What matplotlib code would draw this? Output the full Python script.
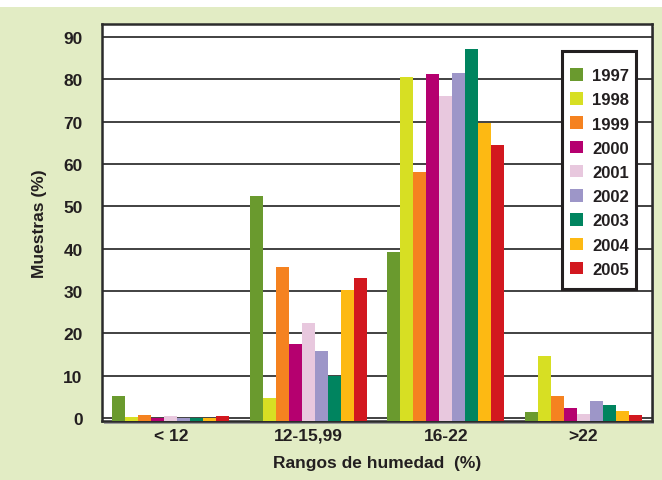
import numpy as np
import matplotlib
matplotlib.use("Agg")
import matplotlib.pyplot as plt
from matplotlib.patches import Rectangle

plt.rcParams['font.family'] = ['Liberation Sans Narrow', 'Liberation Sans', 'DejaVu Sans']
plt.rcParams['font.weight'] = 'bold'
plt.rcParams['axes.labelweight'] = 'bold'

# datos
rangos = ["< 12", "12-15,99", "16-22", ">22"]
anios = ["1997", "1998", "1999", "2000", "2001", "2002", "2003", "2004", "2005"]
colores = ["#6A9A2E", "#D7DF23", "#F58220", "#B5006F", "#E8C8DE",
           "#9D96C8", "#00845F", "#FDB913", "#D2181F"]

v1997 = [5.3, 52.5, 39.3, 1.5]
v1998 = [0.3, 4.7, 80.6, 14.7]
v1999 = [0.8, 35.7, 58.1, 5.2]
v2000 = [0.1, 17.5, 81.2, 2.4]
v2001 = [0.4, 22.5, 76.2, 0.9]
v2002 = [0.1, 15.8, 81.6, 4.0]
v2003 = [0.1, 9.9, 87.1, 3.1]
v2004 = [0.1, 30.3, 69.8, 1.7]
v2005 = [0.4, 33.1, 64.4, 0.7]
series = [v1997, v1998, v1999, v2000, v2001, v2002, v2003, v2004, v2005]

verde = "#E2ECC4"
fig = plt.figure(figsize=(6.62, 4.81), dpi=100, facecolor=verde)
# franja blanca arriba
fig.patches.append(Rectangle((0, 1 - 8 / 481), 1, 8 / 481, transform=fig.transFigure,
                             facecolor="white", edgecolor="none", zorder=-2))
# sombra del marco
fig.patches.append(Rectangle((104 / 662, 1 - 425 / 481), 550 / 662, 397 / 481,
                             transform=fig.transFigure, facecolor="#9a9a9a",
                             edgecolor="none", zorder=-1))

ax = fig.add_axes([102 / 662, 1 - 422 / 481, 550 / 662, 397 / 481])
ax.set_facecolor("white")
ax.set_zorder(1)

ymin, ymax = -0.7, 93.1
x = np.arange(len(rangos))
w = 0.85 / len(anios)
for i, (vals, c, a) in enumerate(zip(series, colores, anios)):
    vals = np.array(vals)
    ax.bar(x - 0.425 + w * (i + 0.5), vals - ymin, width=w, bottom=ymin,
           color=c, label=a, zorder=3)

ax.set_xlim(-0.5, 3.5)
ax.set_ylim(ymin, ymax)
ax.set_yticks(range(0, 91, 10))
ax.set_xticks(x)
ax.set_xticklabels(rangos)
ax.tick_params(length=0, labelsize=12.5, colors="#231F20")
ax.tick_params(axis='y', pad=14)
ax.tick_params(axis='x', pad=5)
ax.yaxis.grid(True, color="#333333", linewidth=1.3, zorder=1)
ax.set_axisbelow(True)
for s in ax.spines.values():
    s.set_linewidth(1.8)
    s.set_color("#2b2b2b")

ax.set_ylabel("Muestras (%)", fontsize=12.5, color="#231F20", labelpad=12)
ax.set_xlabel("Rangos de humedad  (%)", fontsize=12.5, color="#231F20", labelpad=9)

# marco de la leyenda
ax.add_patch(Rectangle((0.836, 0.3325), 0.135, 0.5995, transform=ax.transAxes,
                       facecolor="white", edgecolor="#231F20", linewidth=2.2,
                       zorder=5))
leg = ax.legend(loc="center left", bbox_to_anchor=(0.842, 0.626), fontsize=12,
                handlelength=0.78, handleheight=0.78, handletextpad=0.55,
                labelspacing=0.55, borderpad=0.3, borderaxespad=0,
                frameon=False)
leg.set_zorder(6)
for t in leg.get_texts():
    t.set_color("#231F20")

fig.savefig("out.png", dpi=100, facecolor=verde)
